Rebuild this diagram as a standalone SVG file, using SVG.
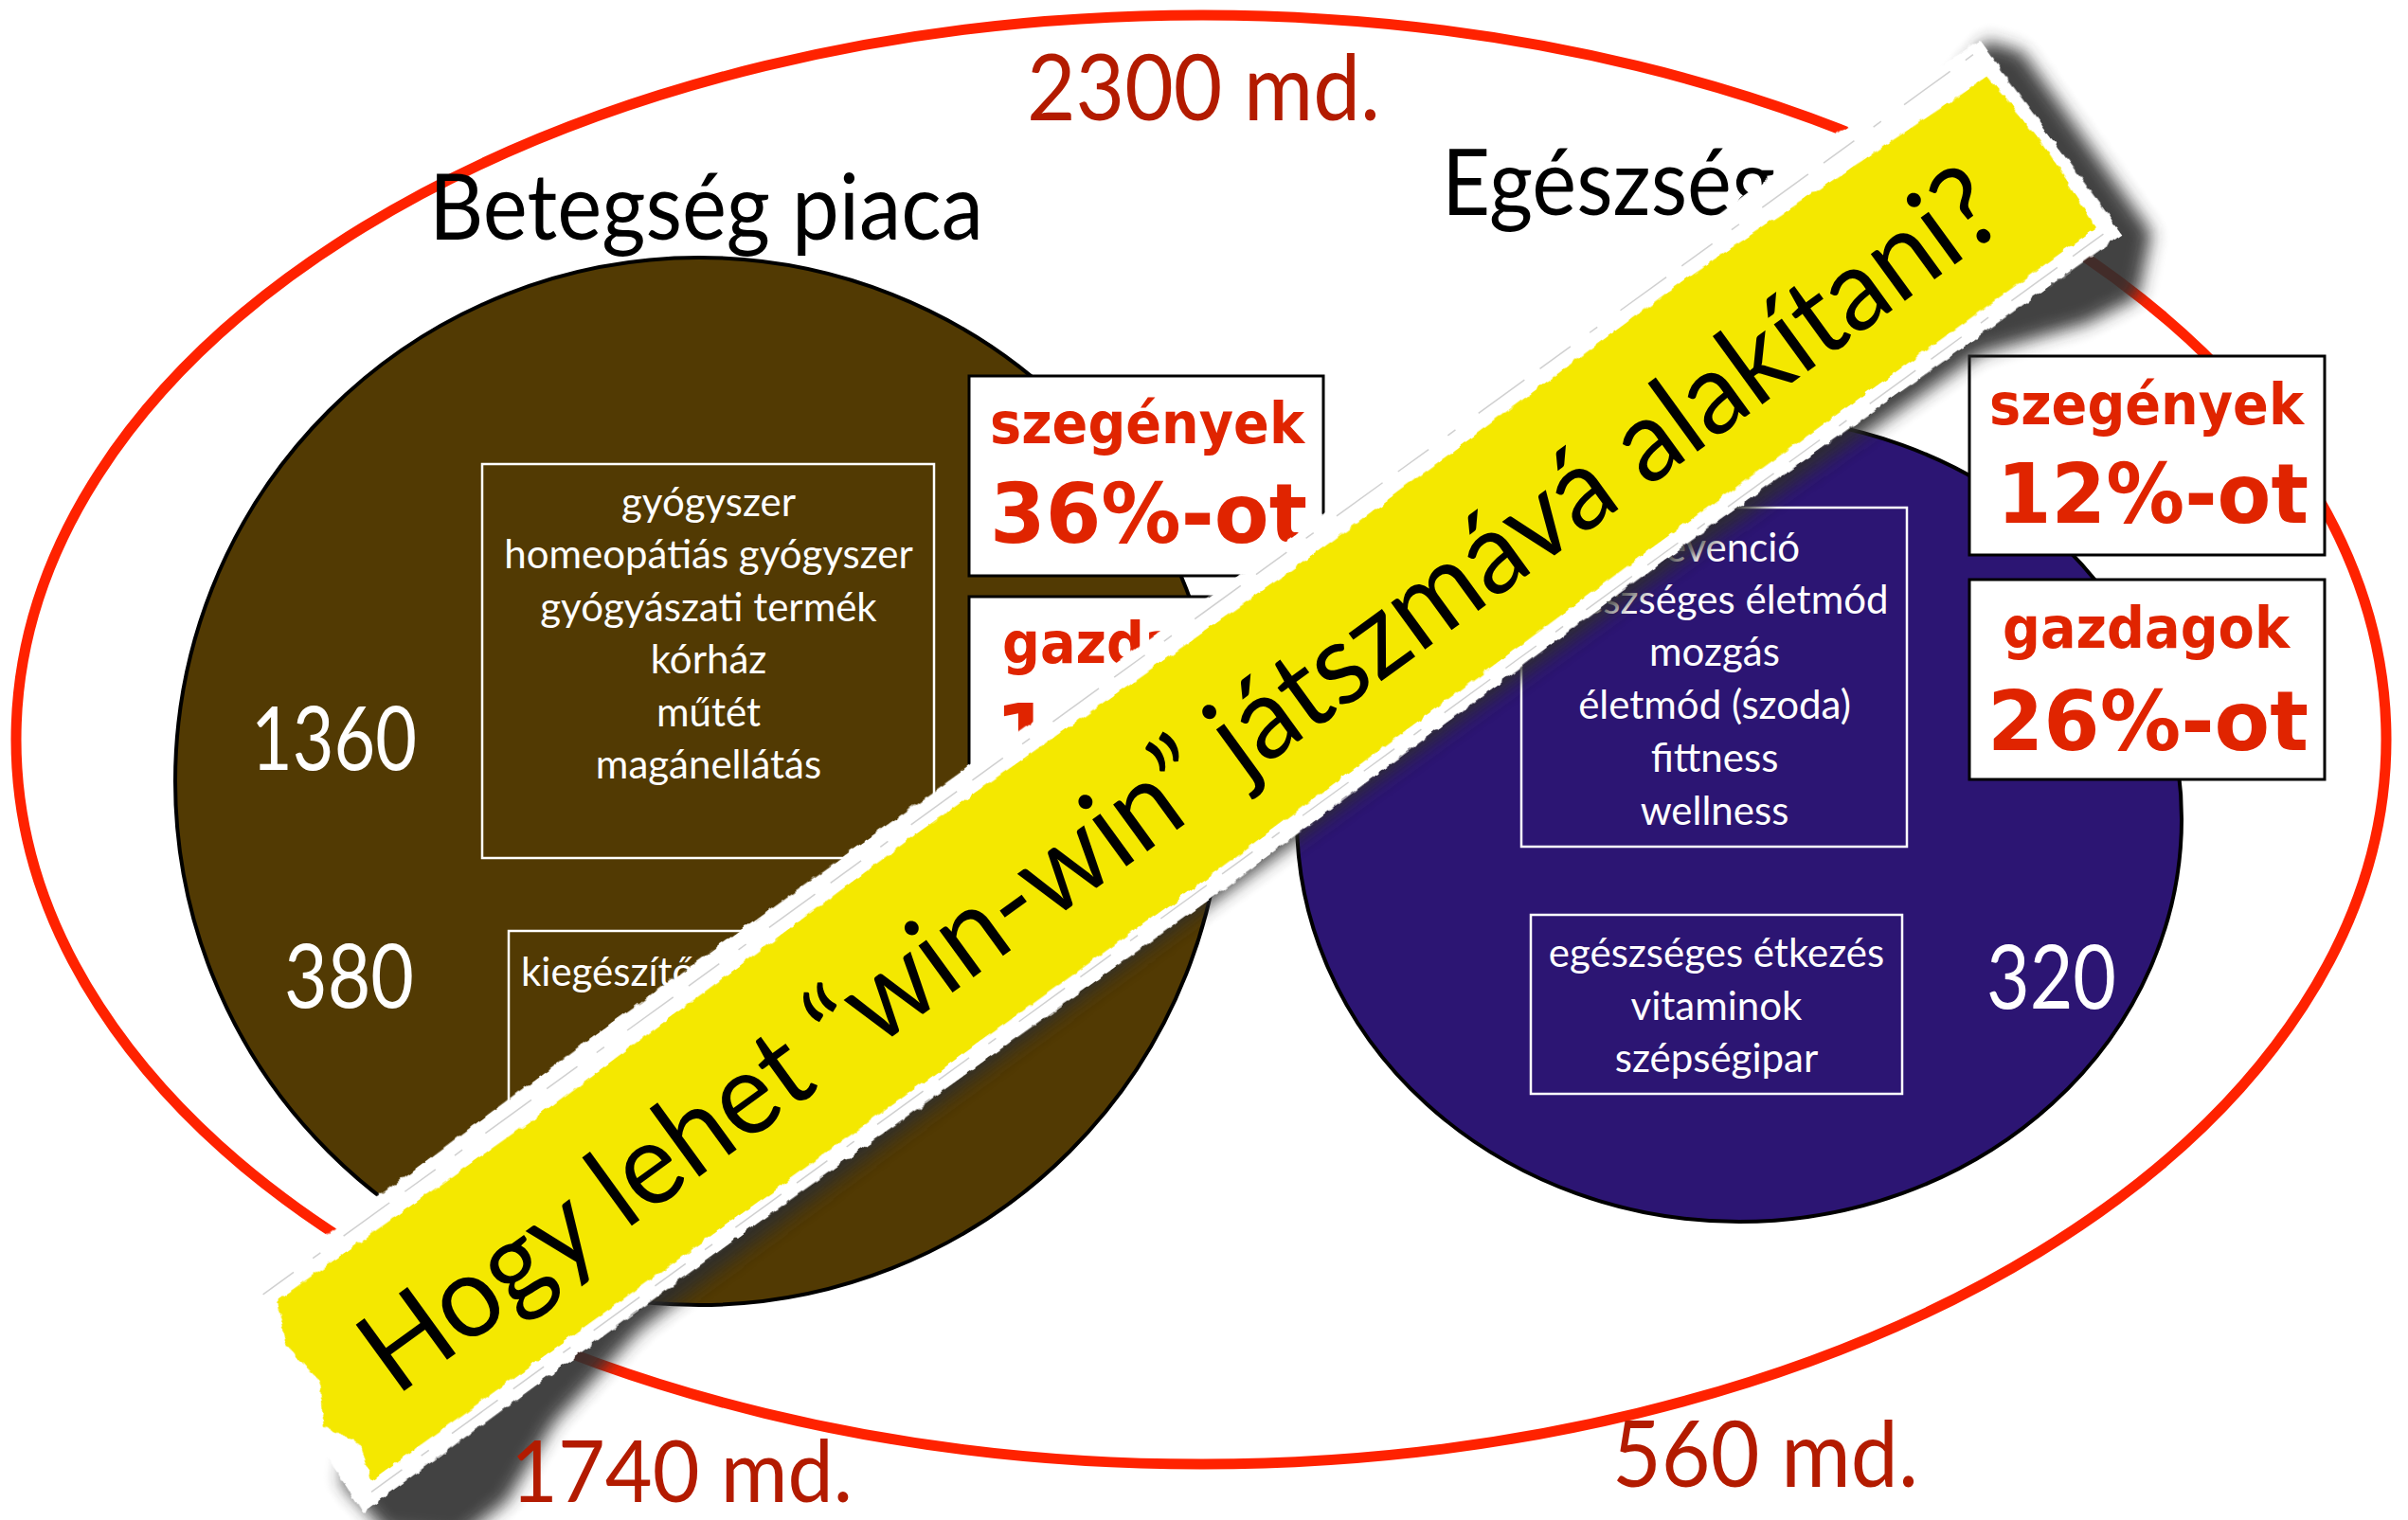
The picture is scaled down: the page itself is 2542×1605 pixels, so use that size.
<svg xmlns="http://www.w3.org/2000/svg" width="2542" height="1605" viewBox="0 0 2542 1605">
<style>
.t{font-family:Lato,'Open Sans','Liberation Sans',sans-serif}
.lbl{fill:#fff;font-size:42px;text-anchor:middle}
.red{font-family:'DejaVu Sans','Liberation Sans',sans-serif;font-weight:bold;fill:#e02400}
.md{fill:#b31b00}
.box{fill:#fff;stroke:#000;stroke-width:3}
.ibox{fill:none;stroke:#fff;stroke-width:2.5}
.big{fill:#fff;font-size:94px}
</style>
<defs>
<filter id="torn" filterUnits="userSpaceOnUse" x="-250" y="-350" width="2700" height="650">
<feTurbulence type="fractalNoise" baseFrequency="0.09" numOctaves="2" seed="4" result="n"/>
<feDisplacementMap in="SourceGraphic" in2="n" scale="7" xChannelSelector="R" yChannelSelector="G"/>
</filter>
<filter id="soft" filterUnits="userSpaceOnUse" x="-250" y="-350" width="2700" height="650">
<feGaussianBlur stdDeviation="9"/>
</filter>
</defs>
<rect width="2542" height="1605" fill="#fff"/>
<g id="outer">
<ellipse cx="1268" cy="781" rx="1251" ry="765" fill="none" stroke="#ff2200" stroke-width="11"/>
</g>
<g id="betegseg">
<circle cx="738" cy="825" r="553" fill="#523a03" stroke="#000" stroke-width="4"/>
<text class="t" x="453" y="253" font-size="97" textLength="585" lengthAdjust="spacingAndGlyphs">Betegség piaca</text>
<text class="t big" x="265" y="813" textLength="175" lengthAdjust="spacingAndGlyphs">1360</text>
<text class="t big" x="300" y="1064" textLength="137" lengthAdjust="spacingAndGlyphs">380</text>
</g>
<g id="egeszseg">
<ellipse cx="1836" cy="865" rx="467" ry="425" fill="#2c1573" stroke="#000" stroke-width="4"/>
<text class="t" x="1522" y="227" font-size="97" textLength="352" lengthAdjust="spacingAndGlyphs">Egészség</text>
<text class="t big" x="2097" y="1065" textLength="137" lengthAdjust="spacingAndGlyphs">320</text>
</g>
<g id="box-betegseg">
<rect class="ibox" x="509" y="490" width="477" height="416"/>
<text class="t lbl" x="748" y="545">gyógyszer</text>
<text class="t lbl" x="748" y="600">homeopátiás gyógyszer</text>
<text class="t lbl" x="748" y="656">gyógyászati termék</text>
<text class="t lbl" x="748" y="711">kórház</text>
<text class="t lbl" x="748" y="767">műtét</text>
<text class="t lbl" x="748" y="822">magánellátás</text>
</g>
<g id="box-kiegeszito">
<rect class="ibox" x="537" y="983" width="400" height="190"/>
<text class="t" x="550" y="1041" font-size="42" fill="#fff">kiegészítő</text>
</g>
<g id="box-egeszseg">
<rect class="ibox" x="1606" y="536" width="407" height="358"/>
<text class="t lbl" x="1810" y="593">prevenció</text>
<text class="t lbl" x="1810" y="648">egészséges életmód</text>
<text class="t lbl" x="1810" y="703">mozgás</text>
<text class="t lbl" x="1810" y="759">életmód (szoda)</text>
<text class="t lbl" x="1810" y="815">fittness</text>
<text class="t lbl" x="1810" y="871">wellness</text>
</g>
<g id="box-etkezes">
<rect class="ibox" x="1616" y="966" width="392" height="189"/>
<text class="t lbl" x="1812" y="1021">egészséges étkezés</text>
<text class="t lbl" x="1812" y="1077">vitaminok</text>
<text class="t lbl" x="1812" y="1132">szépségipar</text>
</g>
<g id="left-szegenyek">
<rect class="box" x="1023" y="397" width="374" height="211"/>
<text class="red" x="1045" y="468" font-size="60" textLength="332" lengthAdjust="spacingAndGlyphs">szegények</text>
<text class="red" x="1045" y="573" font-size="88" textLength="335" lengthAdjust="spacingAndGlyphs">36%-ot</text>
</g>
<g id="left-gazdagok">
<rect class="box" x="1023" y="630" width="374" height="211"/>
<text class="red" x="1058" y="700" font-size="60" textLength="303" lengthAdjust="spacingAndGlyphs">gazdagok</text>
<text class="red" x="1050" y="806" font-size="88">1</text>
</g>
<g id="right-szegenyek">
<rect class="box" x="2079" y="376" width="375" height="210"/>
<text class="red" x="2100" y="448" font-size="60" textLength="332" lengthAdjust="spacingAndGlyphs">szegények</text>
<text class="red" x="2108" y="552" font-size="88" textLength="329" lengthAdjust="spacingAndGlyphs">12%-ot</text>
</g>
<g id="right-gazdagok">
<rect class="box" x="2079" y="612" width="375" height="211"/>
<text class="red" x="2114" y="684" font-size="60" textLength="303" lengthAdjust="spacingAndGlyphs">gazdagok</text>
<text class="red" x="2098" y="792" font-size="88" textLength="339" lengthAdjust="spacingAndGlyphs">26%-ot</text>
</g>
<g id="tape" transform="translate(418,1475) rotate(-36)">
<path filter="url(#soft)" fill="#2e2e2e" opacity="0.9" d="M -100,40 L -92,110 L -35,160 L 30,158 L 120,120 L 250,94 L 600,88 L 1000,84 L 1600,84 L 2000,92 L 2110,132 L 2170,142 L 2222,95 L 2224,-140 L 2200,-172 L 2150,-160 L 2150,0 L -60,0 Z"/>
<path filter="url(#torn)" fill="#fff" d="M -70,-180 L 400,-186 L 900,-183 L 1300,-178 L 1900,-190 L 2194,-176 L 2196,78 L 1600,72 L 1000,80 L 400,76 L -100,78 L -92,-60 Z"/>
<path fill="none" stroke="#c4c4c4" stroke-width="1.5" opacity="0.8" stroke-dasharray="40 25 10 30 60 20" d="M -50,-170 L 2180,-168 M -80,66 L 2185,66"/>
<path filter="url(#torn)" fill="#f4e800" d="M -42,-156 L 300,-152 L 800,-158 L 1300,-150 L 1800,-155 L 2178,-140 L 2184,-60 L 2178,56 L 1600,54 L 1000,60 L 400,58 L -73,56 L -60,20 L -80,-20 L -55,-60 L -62,-110 Z"/>
<text class="t" x="0" y="0" font-size="121" fill="#000" textLength="2105" lengthAdjust="spacingAndGlyphs">Hogy lehet “win-win” játszmává alakítani?</text>
</g>
<g id="totals">
<text class="t md" x="1084" y="127" font-size="96" textLength="373" lengthAdjust="spacingAndGlyphs">2300 md.</text>
<text class="t md" x="539" y="1586" font-size="92" textLength="361" lengthAdjust="spacingAndGlyphs">1740 md.</text>
<text class="t md" x="1702" y="1570" font-size="96" textLength="323" lengthAdjust="spacingAndGlyphs">560 md.</text>
</g>
</svg>
